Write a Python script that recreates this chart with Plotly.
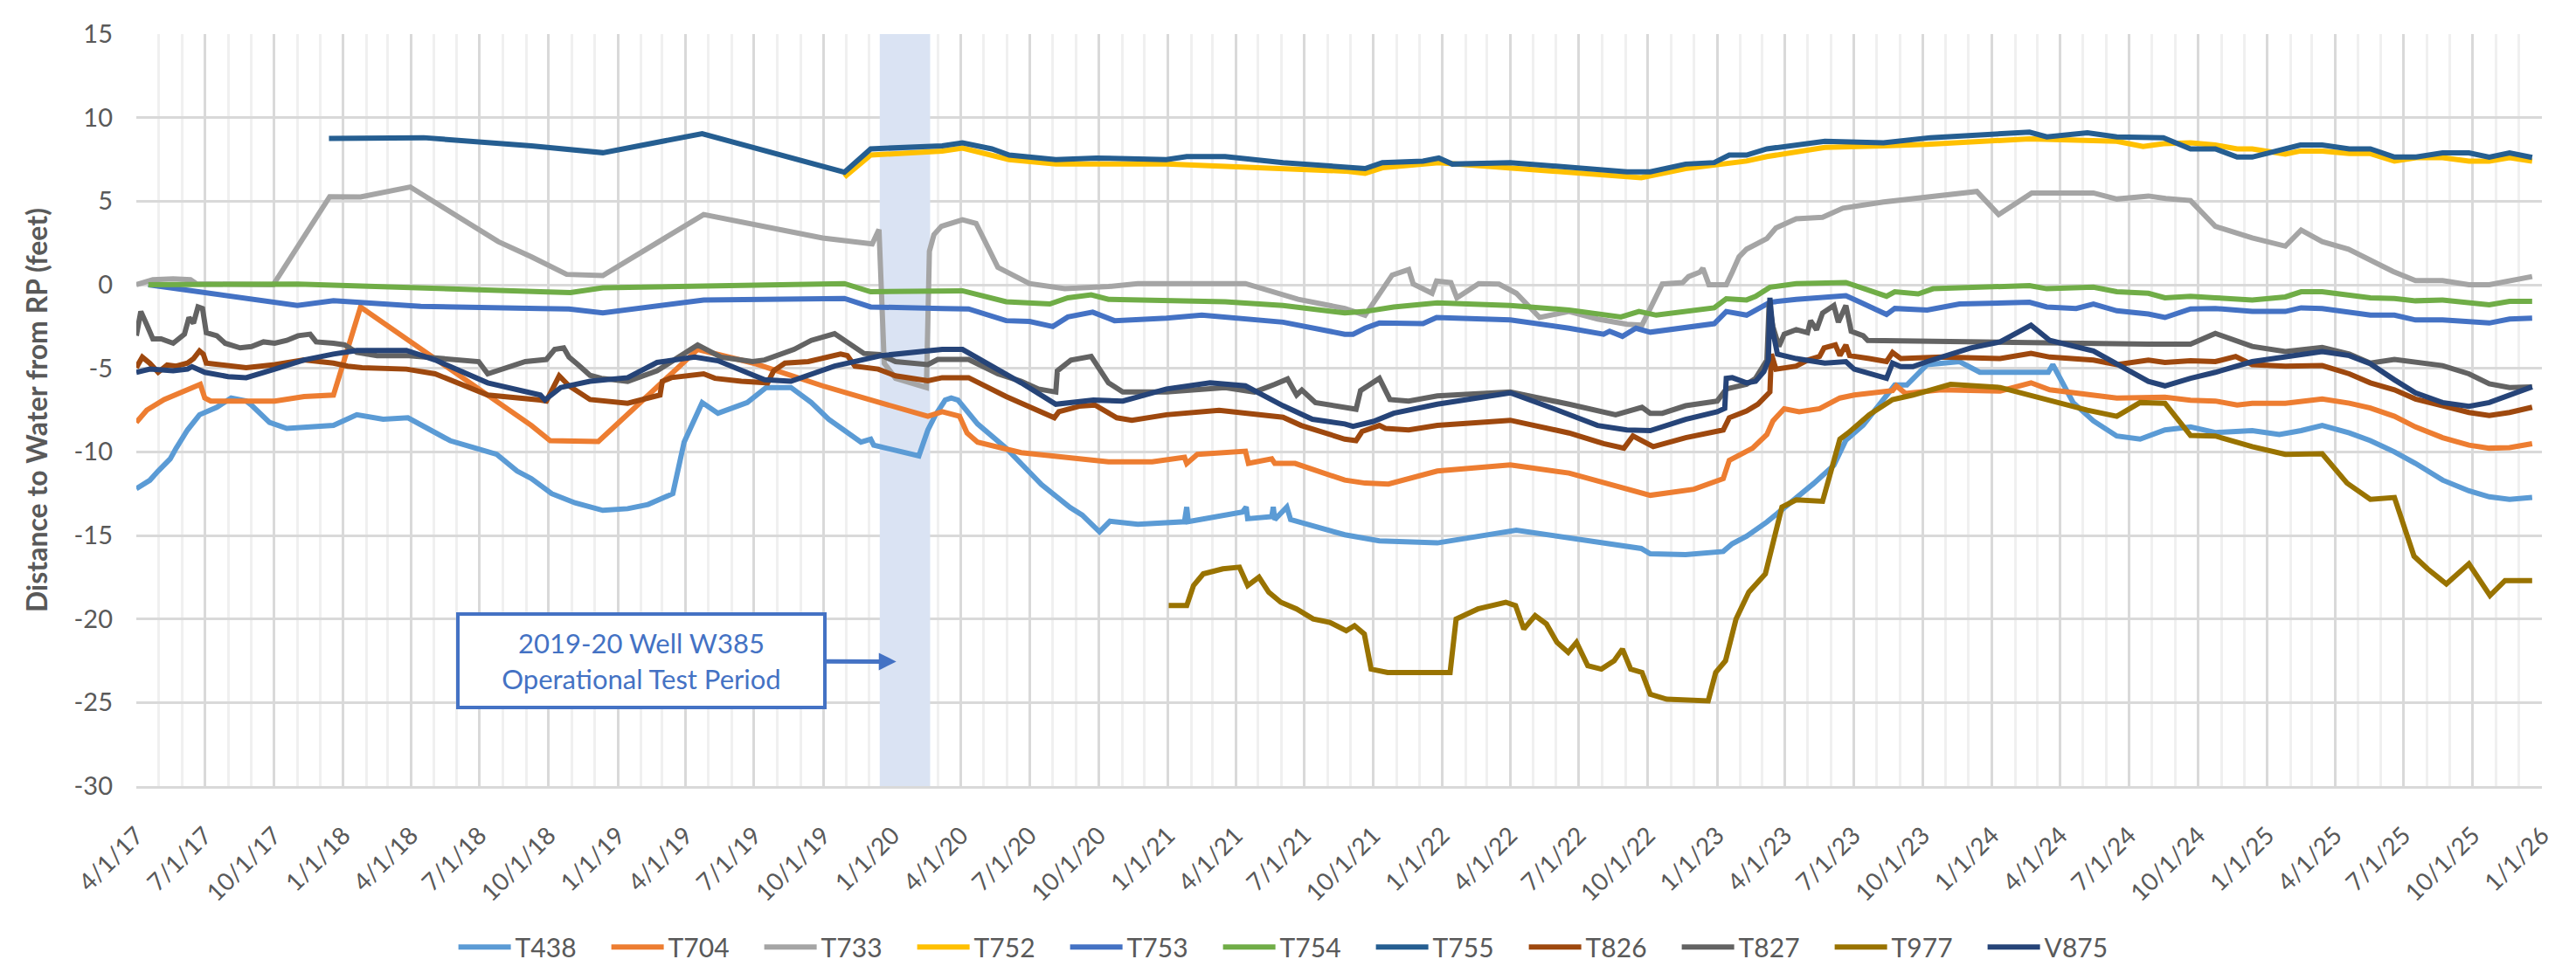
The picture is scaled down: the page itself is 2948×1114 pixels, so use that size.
import pandas as pd
import plotly.graph_objects as go

START = "2017-04-01"

# (days since 4/1/17, distance to water ft)
T438 = [(0,-12.2),(18,-11.7),(29,-11.15),(45,-10.42),(53,-9.78),(68,-8.69),(84,-7.78),(107,-7.33),(126,-6.78),(146,-6.96),(153,-7.2),(177,-8.24),(200,-8.6),(231,-8.5),(262,-8.42),(293,-7.78),(328,-8.05),(361,-7.96),(417,-9.33),(479,-10.15),(506,-11.15),(525,-11.6),(552,-12.5),(583,-13.05),(620,-13.5),(653,-13.4),(680,-13.15),(713,-12.5),(728,-9.42),(752,-7.05),(773,-7.69),(812,-7.05),(837,-6.15),(870,-6.15),(897,-7.05),(920,-8.05),(963,-9.42),(976,-9.24),(980,-9.6),(1040,-10.24),(1052,-8.69),(1062,-7.8),(1075,-6.9),(1083,-6.78),(1092,-6.9),(1118,-8.33),(1156,-9.78),(1203,-11.96),(1241,-13.33),(1257,-13.78),(1280,-14.78),(1294,-14.15),(1331,-14.33),(1393,-14.18),(1396,-13.3),(1398,-14.18),(1470,-13.6),(1475,-13.3),(1477,-14.0),(1509,-13.87),(1511,-13.3),(1513,-14.05),(1529,-13.3),(1534,-14.05),(1606,-14.96),(1652,-15.33),(1729,-15.45),(1834,-14.69),(1904,-15.15),(2000,-15.78),(2012,-16.1),(2059,-16.15),(2109,-15.96),(2121,-15.5),(2140,-15.05),(2167,-14.2),(2229,-11.9),(2256,-10.8),(2272,-9.3),(2295,-8.4),(2337,-6.0),(2353,-6.0),(2380,-4.78),(2423,-4.6),(2450,-5.24),(2541,-5.24),(2547,-4.78),(2574,-7.05),(2601,-8.15),(2632,-9.05),(2663,-9.24),(2696,-8.69),(2730,-8.51),(2763,-8.84),(2812,-8.73),(2848,-8.96),(2877,-8.73),(2905,-8.42),(2941,-8.87),(2969,-9.33),(3001,-10.0),(3029,-10.69),(3065,-11.69),(3100,-12.33),(3127,-12.69),(3154,-12.84),(3184,-12.73)]

T704 = [(0,-8.24),(14,-7.5),(37,-6.87),(68,-6.24),(85,-5.96),(91,-6.78),(99,-6.96),(184,-6.96),(223,-6.69),(262,-6.6),(298,-1.33),(525,-8.42),(550,-9.33),(614,-9.38),(746,-3.87),(820,-4.69),(912,-6.05),(967,-6.78),(982,-6.96),(1029,-7.6),(1052,-7.87),(1071,-7.6),(1094,-7.87),(1104,-8.87),(1118,-9.42),(1176,-10.05),(1292,-10.6),(1350,-10.6),(1393,-10.33),(1396,-10.7),(1410,-10.15),(1474,-9.96),(1478,-10.69),(1509,-10.42),(1513,-10.69),(1540,-10.69),(1606,-11.69),(1633,-11.87),(1664,-11.93),(1729,-11.15),(1826,-10.78),(1904,-11.27),(1981,-12.24),(2012,-12.6),(2070,-12.24),(2109,-11.6),(2117,-10.51),(2140,-9.96),(2148,-9.78),(2167,-8.96),(2175,-8.15),(2190,-7.42),(2210,-7.6),(2237,-7.42),(2264,-6.78),(2283,-6.6),(2334,-6.33),(2339,-6.05),(2351,-6.5),(2399,-6.29),(2477,-6.36),(2518,-5.87),(2543,-6.29),(2632,-6.78),(2663,-6.78),(2696,-6.73),(2730,-6.91),(2763,-6.96),(2792,-7.2),(2812,-7.09),(2856,-7.09),(2905,-6.84),(2941,-7.09),(2969,-7.38),(3001,-7.87),(3029,-8.51),(3065,-9.15),(3100,-9.6),(3127,-9.78),(3154,-9.75),(3184,-9.51)]

T733 = [(0,0.0),(22,0.3),(49,0.35),(72,0.3),(80,0.05),(182,0.0),(257,5.27),(298,5.25),(364,5.85),(481,2.58),(525,1.67),(572,0.62),(620,0.55),(754,4.2),(912,2.8),(978,2.44),(987,3.3),(994,-4.7),(1009,-5.6),(1050,-6.15),(1054,2.0),(1060,3.0),(1070,3.5),(1098,3.89),(1116,3.67),(1145,1.04),(1187,0.07),(1234,-0.24),(1292,-0.11),(1331,0.07),(1474,0.07),(1544,-0.87),(1606,-1.42),(1633,-1.82),(1669,0.58),(1691,0.91),(1697,0.04),(1722,-0.51),(1728,0.22),(1747,0.13),(1755,-0.78),(1784,0.07),(1811,0.04),(1834,-0.51),(1865,-1.96),(1904,-1.6),(1942,-2.05),(1981,-2.36),(2001,-2.42),(2028,0.04),(2055,0.13),(2063,0.49),(2078,0.76),(2082,0.98),(2090,0.0),(2113,0.0),(2121,0.76),(2130,1.67),(2140,2.13),(2167,2.76),(2179,3.4),(2206,3.95),(2241,4.04),(2268,4.58),(2322,4.95),(2380,5.27),(2446,5.58),(2475,4.2),(2519,5.49),(2601,5.49),(2632,5.13),(2674,5.31),(2697,5.16),(2730,5.04),(2763,3.49),(2812,2.8),(2856,2.31),(2877,3.27),(2905,2.58),(2940,2.13),(2972,1.4),(2999,0.8),(3029,0.25),(3065,0.25),(3100,0.0),(3127,0.0),(3184,0.49)]

T752 = [(941,6.44),(976,7.76),(1071,8.0),(1098,8.18),(1160,7.49),(1222,7.22),(1369,7.22),(1524,6.98),(1606,6.8),(1633,6.67),(1656,7.0),(1731,7.31),(1826,7.0),(1923,6.62),(2000,6.4),(2059,6.95),(2101,7.17),(2140,7.4),(2167,7.67),(2244,8.22),(2322,8.31),(2380,8.4),(2516,8.73),(2632,8.58),(2667,8.27),(2694,8.44),(2730,8.49),(2763,8.36),(2792,8.13),(2812,8.13),(2856,7.82),(2876,8.0),(2905,8.0),(2941,7.85),(2969,7.85),(3001,7.4),(3030,7.6),(3065,7.6),(3100,7.4),(3127,7.4),(3154,7.6),(3184,7.4)]

T753 = [(16,0.0),(214,-1.24),(262,-0.96),(378,-1.29),(537,-1.42),(575,-1.45),(620,-1.69),(754,-0.91),(941,-0.82),(976,-1.33),(1071,-1.42),(1106,-1.45),(1156,-2.15),(1187,-2.2),(1218,-2.5),(1238,-1.93),(1271,-1.64),(1300,-2.15),(1369,-2.0),(1416,-1.82),(1524,-2.24),(1606,-2.96),(1617,-2.96),(1633,-2.6),(1652,-2.29),(1710,-2.33),(1728,-1.96),(1788,-2.05),(1826,-2.1),(1904,-2.6),(1950,-2.96),(1958,-2.78),(1975,-3.09),(1993,-2.6),(2012,-2.84),(2097,-2.33),(2113,-1.6),(2140,-1.82),(2148,-1.6),(2171,-1.05),(2206,-0.87),(2272,-0.65),(2291,-1.05),(2326,-1.78),(2337,-1.42),(2380,-1.51),(2423,-1.15),(2516,-1.05),(2539,-1.33),(2578,-1.42),(2601,-1.15),(2632,-1.56),(2674,-1.75),(2696,-1.96),(2730,-1.45),(2763,-1.42),(2812,-1.6),(2856,-1.6),(2877,-1.38),(2905,-1.42),(2969,-1.82),(3001,-1.82),(3029,-2.11),(3065,-2.11),(3127,-2.29),(3154,-2.05),(3184,-2.0)]

T754 = [(16,0.0),(215,0.04),(537,-0.42),(577,-0.47),(620,-0.18),(754,-0.09),(941,0.07),(976,-0.42),(1071,-0.42),(1098,-0.36),(1156,-1.02),(1214,-1.15),(1238,-0.78),(1269,-0.6),(1292,-0.87),(1369,-0.96),(1447,-1.02),(1524,-1.24),(1606,-1.69),(1633,-1.6),(1671,-1.33),(1729,-1.09),(1826,-1.24),(1904,-1.51),(1973,-1.93),(1997,-1.6),(2020,-1.82),(2097,-1.38),(2113,-0.84),(2140,-0.91),(2152,-0.7),(2171,-0.15),(2206,0.07),(2272,0.13),(2291,-0.15),(2326,-0.69),(2337,-0.42),(2368,-0.55),(2388,-0.24),(2438,-0.15),(2516,-0.05),(2539,-0.24),(2601,-0.15),(2632,-0.42),(2674,-0.51),(2696,-0.78),(2730,-0.69),(2763,-0.78),(2812,-0.91),(2856,-0.73),(2877,-0.42),(2905,-0.42),(2969,-0.78),(3001,-0.82),(3029,-0.96),(3065,-0.91),(3127,-1.2),(3154,-0.99),(3184,-0.99)]

T755 = [(256,8.76),(382,8.8),(525,8.31),(620,7.9),(752,9.04),(941,6.73),(976,8.13),(1071,8.31),(1098,8.49),(1137,8.13),(1160,7.76),(1222,7.49),(1276,7.58),(1369,7.49),(1396,7.67),(1447,7.67),(1524,7.31),(1606,7.04),(1633,6.95),(1656,7.31),(1710,7.4),(1731,7.58),(1749,7.22),(1826,7.31),(1904,7.04),(1981,6.76),(2012,6.76),(2059,7.22),(2097,7.31),(2117,7.76),(2140,7.76),(2167,8.13),(2244,8.58),(2322,8.49),(2384,8.8),(2516,9.13),(2539,8.85),(2593,9.09),(2632,8.85),(2674,8.85),(2694,8.8),(2730,8.13),(2763,8.13),(2792,7.64),(2812,7.64),(2876,8.36),(2905,8.36),(2941,8.13),(2969,8.13),(3001,7.64),(3030,7.64),(3065,7.89),(3100,7.89),(3127,7.64),(3154,7.89),(3184,7.62)]

T826 = [(0,-4.96),(8,-4.33),(18,-4.7),(29,-5.24),(41,-4.8),(53,-4.87),(68,-4.69),(76,-4.42),(84,-3.96),(89,-4.15),(93,-4.69),(107,-4.78),(126,-4.9),(146,-4.96),(184,-4.78),(223,-4.5),(262,-4.69),(281,-4.87),(300,-4.96),(359,-5.05),(397,-5.33),(467,-6.6),(537,-6.9),(545,-6.96),(562,-5.45),(575,-6.05),(603,-6.87),(653,-7.09),(696,-6.6),(699,-5.78),(711,-5.56),(754,-5.33),(769,-5.6),(804,-5.78),(839,-5.87),(847,-5.15),(862,-4.69),(893,-4.6),(936,-4.15),(945,-4.24),(955,-4.87),(986,-5.05),(1009,-5.45),(1052,-5.75),(1071,-5.56),(1106,-5.56),(1156,-6.69),(1220,-7.96),(1226,-7.6),(1253,-7.27),(1274,-7.2),(1303,-7.96),(1323,-8.11),(1369,-7.78),(1439,-7.51),(1478,-7.69),(1524,-7.93),(1548,-8.42),(1606,-9.24),(1621,-9.33),(1629,-8.78),(1652,-8.42),(1660,-8.6),(1691,-8.69),(1729,-8.42),(1826,-8.11),(1904,-8.87),(1950,-9.51),(1977,-9.78),(1989,-9.05),(2016,-9.69),(2059,-9.15),(2109,-8.69),(2117,-7.96),(2140,-7.56),(2155,-7.15),(2171,-6.42),(2173,-4.15),(2179,-5.05),(2206,-4.87),(2221,-4.51),(2237,-4.29),(2243,-3.78),(2258,-3.6),(2264,-4.24),(2272,-3.6),(2277,-4.24),(2303,-4.42),(2326,-4.6),(2334,-4.05),(2345,-4.42),(2399,-4.33),(2477,-4.42),(2518,-4.11),(2543,-4.33),(2601,-4.51),(2632,-4.78),(2674,-4.51),(2696,-4.65),(2730,-4.55),(2763,-4.6),(2790,-4.29),(2812,-4.78),(2856,-4.87),(2905,-4.84),(2941,-5.33),(2969,-5.87),(3001,-6.29),(3029,-6.84),(3065,-7.24),(3100,-7.64),(3127,-7.82),(3154,-7.64),(3184,-7.33)]

T827 = [(0,-3.05),(6,-1.6),(14,-2.4),(22,-3.24),(33,-3.24),(49,-3.5),(64,-2.96),(70,-1.96),(76,-2.3),(82,-1.33),(88,-1.42),(93,-2.87),(107,-3.05),(118,-3.5),(138,-3.78),(153,-3.7),(169,-3.42),(184,-3.5),(200,-3.33),(215,-3.05),(231,-2.96),(239,-3.42),(262,-3.5),(277,-3.6),(293,-4.05),(320,-4.24),(359,-4.24),(455,-4.6),(467,-5.33),(517,-4.6),(545,-4.47),(556,-3.87),(568,-3.78),(575,-4.33),(587,-4.78),(603,-5.42),(618,-5.6),(653,-5.78),(692,-5.15),(746,-3.6),(777,-4.33),(819,-4.6),(835,-4.5),(874,-3.87),(897,-3.33),(928,-2.93),(967,-4.11),(988,-4.18),(1009,-4.6),(1052,-4.78),(1065,-4.47),(1106,-4.47),(1145,-5.33),(1176,-5.78),(1199,-6.24),(1222,-6.42),(1224,-5.15),(1242,-4.51),(1269,-4.29),(1292,-5.87),(1311,-6.42),(1369,-6.42),(1447,-6.15),(1486,-6.42),(1513,-5.96),(1530,-5.64),(1542,-6.6),(1549,-6.3),(1567,-7.05),(1606,-7.38),(1621,-7.45),(1627,-6.33),(1636,-6.05),(1652,-5.6),(1666,-6.87),(1691,-6.96),(1729,-6.65),(1826,-6.42),(1904,-7.15),(1950,-7.6),(1966,-7.78),(2001,-7.33),(2012,-7.69),(2028,-7.69),(2059,-7.24),(2101,-6.96),(2113,-6.24),(2140,-5.96),(2152,-5.6),(2167,-4.51),(2170,-1.09),(2175,-2.51),(2183,-3.69),(2190,-2.96),(2206,-2.69),(2221,-2.87),(2225,-2.15),(2233,-2.69),(2241,-1.69),(2256,-1.24),(2262,-2.24),(2272,-1.24),(2279,-2.78),(2295,-3.05),(2301,-3.33),(2674,-3.56),(2730,-3.56),(2763,-2.91),(2812,-3.69),(2856,-4.0),(2905,-3.75),(2941,-4.15),(2969,-4.69),(3001,-4.47),(3065,-4.84),(3100,-5.33),(3127,-5.93),(3154,-6.15),(3184,-6.11)]

T977 = [(1372,-19.2),(1396,-19.2),(1405,-18.0),(1418,-17.3),(1444,-17.0),(1466,-16.9),(1477,-18.0),(1492,-17.5),(1505,-18.4),(1521,-19.0),(1542,-19.4),(1564,-20.0),(1586,-20.2),(1608,-20.7),(1619,-20.4),(1632,-20.9),(1641,-23.0),(1663,-23.2),(1746,-23.2),(1754,-20.0),(1783,-19.4),(1820,-19.0),(1833,-19.2),(1844,-20.6),(1859,-19.8),(1874,-20.3),(1888,-21.4),(1903,-22.0),(1914,-21.4),(1929,-22.8),(1947,-23.0),(1964,-22.5),(1975,-21.8),(1986,-23.0),(2001,-23.2),(2012,-24.5),(2034,-24.8),(2089,-24.9),(2099,-23.2),(2112,-22.5),(2126,-20.0),(2143,-18.4),(2165,-17.3),(2176,-15.4),(2187,-13.3),(2206,-12.87),(2241,-12.96),(2264,-9.24),(2275,-8.87),(2303,-7.78),(2334,-6.87),(2361,-6.6),(2411,-5.96),(2477,-6.15),(2500,-6.42),(2547,-7.05),(2562,-7.15),(2593,-7.51),(2632,-7.87),(2663,-7.05),(2696,-7.09),(2730,-9.02),(2763,-9.05),(2812,-9.69),(2856,-10.15),(2905,-10.11),(2938,-11.87),(2969,-12.84),(3001,-12.73),(3027,-16.24),(3045,-17.0),(3070,-17.9),(3100,-16.7),(3128,-18.6),(3148,-17.7),(3184,-17.7)]

V875 = [(0,-5.24),(18,-5.05),(49,-5.15),(68,-5.05),(74,-4.9),(91,-5.24),(122,-5.5),(146,-5.56),(184,-5.05),(223,-4.5),(262,-4.15),(293,-3.93),(359,-3.93),(397,-4.5),(467,-5.87),(537,-6.6),(543,-6.9),(564,-6.15),(603,-5.78),(653,-5.56),(692,-4.65),(742,-4.33),(773,-4.55),(835,-5.69),(870,-5.78),(901,-5.33),(928,-4.87),(990,-4.24),(1029,-4.05),(1071,-3.87),(1098,-3.87),(1137,-4.87),(1176,-5.87),(1222,-7.15),(1272,-6.9),(1311,-6.96),(1369,-6.24),(1427,-5.87),(1474,-6.05),(1524,-7.24),(1563,-8.05),(1606,-8.33),(1617,-8.47),(1644,-8.18),(1671,-7.69),(1729,-7.15),(1826,-6.47),(1884,-7.42),(1942,-8.42),(1981,-8.69),(2012,-8.73),(2059,-8.05),(2101,-7.6),(2111,-7.4),(2113,-5.6),(2121,-5.56),(2140,-5.87),(2152,-5.78),(2163,-5.2),(2169,-4.5),(2171,-0.78),(2175,-2.8),(2181,-4.15),(2206,-4.42),(2244,-4.69),(2272,-4.6),(2283,-5.05),(2326,-5.6),(2334,-4.69),(2345,-4.9),(2361,-4.9),(2380,-4.6),(2438,-3.78),(2477,-3.42),(2518,-2.42),(2543,-3.33),(2601,-3.96),(2674,-5.78),(2696,-6.05),(2730,-5.6),(2763,-5.24),(2812,-4.6),(2856,-4.33),(2905,-4.0),(2941,-4.24),(2969,-4.73),(3001,-5.69),(3029,-6.47),(3065,-7.05),(3100,-7.27),(3127,-7.05),(3154,-6.6),(3184,-6.11)]

SERIES = [("T438", T438, "#5B9BD5"), ("T704", T704, "#ED7D31"), ("T733", T733, "#A5A5A5"),
          ("T752", T752, "#FFC000"), ("T753", T753, "#4472C4"), ("T754", T754, "#70AD47"),
          ("T755", T755, "#255E91"), ("T826", T826, "#9E480E"), ("T827", T827, "#636363"),
          ("T977", T977, "#997300"), ("V875", V875, "#264478")]

TICK_LABELS = ["4/1/17","7/1/17","10/1/17","1/1/18","4/1/18","7/1/18","10/1/18","1/1/19","4/1/19",
               "7/1/19","10/1/19","1/1/20","4/1/20","7/1/20","10/1/20","1/1/21","4/1/21","7/1/21",
               "10/1/21","1/1/22","4/1/22","7/1/22","10/1/22","1/1/23","4/1/23","7/1/23","10/1/23",
               "1/1/24","4/1/24","7/1/24","10/1/24","1/1/25","4/1/25","7/1/25","10/1/25","1/1/26"]
Y_TICKS = [15, 10, 5, 0, -5, -10, -15, -20, -25, -30]
Y_RANGE = (-30, 15)

TEST_PERIOD = ("2019-12-15", "2020-02-20")
TEST_LABEL = "2019-20 Well W385<br>Operational Test Period"

FONT = "Lato, 'Open Sans', sans-serif"
GREY = "#595959"

start = pd.Timestamp(START)
fig = go.Figure()
for name, pts, color in SERIES:
    days = [p[0] for p in pts]
    vals = [p[1] for p in pts]
    x = start + pd.to_timedelta(days, unit="D")
    fig.add_trace(go.Scatter(x=x, y=vals, name=name, mode="lines",
                             line=dict(color=color, width=6)))

tickvals = pd.to_datetime(TICK_LABELS, format="%m/%d/%y")

fig.add_shape(type="rect", xref="x", yref="y", x0=TEST_PERIOD[0], x1=TEST_PERIOD[1],
              y0=Y_RANGE[0], y1=Y_RANGE[1], fillcolor="#DAE3F3", opacity=1,
              line_width=0, layer="between")

fig.add_annotation(x="2020-01-06", y=-22.55, xref="x", yref="y", text=TEST_LABEL,
                   showarrow=True, ax=-292, ay=-1, arrowhead=2, arrowsize=0.8, arrowwidth=5,
                   arrowcolor="#4472C4", bordercolor="#4472C4", borderwidth=4, borderpad=4,
                   bgcolor="white", width=408, height=95,
                   font=dict(family=FONT, size=31, color="#4472C4"))

fig.update_layout(
    width=2948, height=1114,
    margin=dict(l=148, r=47, t=24, b=206),
    plot_bgcolor="white", paper_bgcolor="white",
    font=dict(family=FONT, size=28, color=GREY),
    showlegend=True,
    legend=dict(orientation="h", xref="paper", yref="paper", x=0.4817, xanchor="center",
                y=-0.214, yanchor="middle", font=dict(size=30, color=GREY),
                itemwidth=60, entrywidthmode="pixels", entrywidth=100),
    xaxis=dict(type="date", range=[tickvals[0], tickvals[-1]], tickmode="array",
               tickvals=tickvals, ticktext=TICK_LABELS, tickangle=-45,
               tickfont=dict(size=28, color=GREY), ticklabelstandoff=26,
               showgrid=True, gridcolor="#D9D9D9", gridwidth=2.5,
               minor=dict(dtick="M1", tick0=START, showgrid=True, gridcolor="#F0F0F0", gridwidth=2.5),
               showline=True, linecolor="#D9D9D9", linewidth=3, zeroline=False),
    yaxis=dict(range=list(Y_RANGE), tickmode="array", tickvals=Y_TICKS,
               ticktext=[str(v) for v in Y_TICKS],
               showgrid=True, gridcolor="#D9D9D9", gridwidth=2.5,
               zeroline=False, showline=False, tickfont=dict(size=29, color=GREY),
               ticklabelstandoff=26,
               title=dict(text="<b>Distance to Water from RP (feet)</b>", standoff=20,
                          font=dict(size=32, color=GREY))),
)

fig.write_html("out.html")
